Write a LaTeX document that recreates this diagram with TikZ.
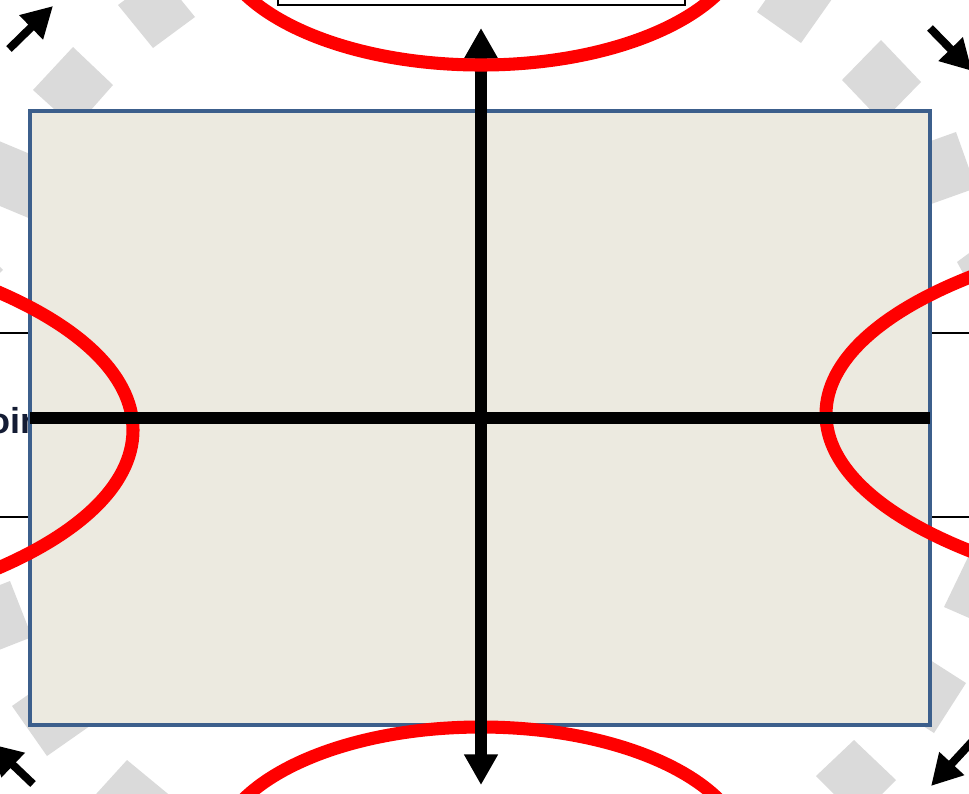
\documentclass[tikz,border=0pt]{standalone}
\usepackage{fontspec}
\setmainfont{Liberation Sans}
\usetikzlibrary{arrows.meta}
\definecolor{boardfill}{HTML}{ECEAE0}
\definecolor{boardline}{HTML}{3C5F8C}
\definecolor{tilegray}{HTML}{DADADA}
\definecolor{ringred}{HTML}{FF0000}
\definecolor{labelnavy}{HTML}{141C34}
\begin{document}
\begin{tikzpicture}[x=0.75pt,y=-0.75pt,
  graytile/.style={fill=tilegray, draw=none},
  sidebox/.style={draw=black, line width=1.8pt, fill=white},
  board/.style={fill=boardfill, draw=boardline, line width=3.2pt},
  ring/.style={draw=ringred, line width=9.8pt},
  axisline/.style={draw=black, line width=8.8pt},
  axisarrow/.style={axisline, {Triangle[width=24pt,length=23pt]}-{Triangle[width=24pt,length=23pt]}},
  cornerarrow/.style={draw=black, line width=6pt, -{Triangle[width=24pt,length=23pt]}},
  leftlabel/.style={anchor=base west, inner sep=0pt, text=labelnavy, font=\fontsize{27}{30}\selectfont\bfseries},
]
\useasboundingbox (0,0) rectangle (969,793);
\clip (0,0) rectangle (969,793);

% gray tiles of the ring
\fill[graytile] (118,5) -- (153,48) -- (195,17) -- (160,-26) -- cycle;
\fill[graytile] (73,47) -- (113,85) -- (75,128) -- (33,90) -- cycle;
\fill[graytile] (-1,141) -- (54,164) -- (31,219) -- (-24,196) -- cycle;
\fill[graytile] (3,270) -- (-30,300) -- (-60,265) -- (-30,235) -- cycle;
\fill[graytile] (10,581) -- (32,637) -- (-24,659) -- (-46,603) -- cycle;
\fill[graytile] (12,706) -- (47,756) -- (97,721) -- (62,671) -- cycle;
\fill[graytile] (127,760) -- (173,798) -- (133,842) -- (87,804) -- cycle;
\fill[graytile] (757,12) -- (801,43) -- (832,-1) -- (788,-32) -- cycle;
\fill[graytile] (842,80) -- (881,40) -- (921,82) -- (882,122) -- cycle;
\fill[graytile] (956,132) -- (976,188) -- (920,208) -- (900,152) -- cycle;
\fill[graytile] (957,262) -- (980,245) -- (1000,275) -- (975,295) -- cycle;
\fill[graytile] (944,607) -- (970,553) -- (1025,577) -- (999,631) -- cycle;
\fill[graytile] (916,651) -- (966,683) -- (934,733) -- (884,701) -- cycle;
\fill[graytile] (816,776) -- (854,740) -- (896,780) -- (858,818) -- cycle;

% boxes around the board
\path[sidebox] (278,-60) rectangle (685,5);
\path[sidebox] (-80,333) rectangle (100,517);
\path[sidebox] (860,333) rectangle (1060,517);
\node[leftlabel] (lefttext) at (-36,433) {Poin};

% board
\path[board] (30,111) rectangle (930,725);

% red rings
\draw[ring] (-367,430) ellipse [x radius=375pt, y radius=151.5pt];
\draw[ring] (1326,414) ellipse [x radius=375pt, y radius=146.25pt];
\draw[ring] (481,857) ellipse [x radius=198.75pt, y radius=97.5pt];

% axes
\coordinate (vtop) at (481,28);
\coordinate (vbot) at (481,785);
\coordinate (hleft) at (30,418);
\coordinate (hright) at (930,418);
\draw[axisline] (hleft) -- (hright);
\draw[axisarrow] (vbot) -- (vtop);

\draw[ring] (481,-65) ellipse [x radius=198.75pt, y radius=97.5pt];

% corner arrows
\coordinate (tlTail) at (9,49);
\coordinate (tlTip) at (53,6);
\coordinate (trTail) at (930,28);
\coordinate (trTip) at (972,71);
\coordinate (blTail) at (33,784);
\coordinate (blTip) at (-9,744);
\coordinate (brTail) at (980,733);
\coordinate (brTip) at (931,786);
\draw[cornerarrow] (tlTail) -- (tlTip);
\draw[cornerarrow] (trTail) -- (trTip);
\draw[cornerarrow] (blTail) -- (blTip);
\draw[cornerarrow] (brTail) -- (brTip);
\end{tikzpicture}
\end{document}
